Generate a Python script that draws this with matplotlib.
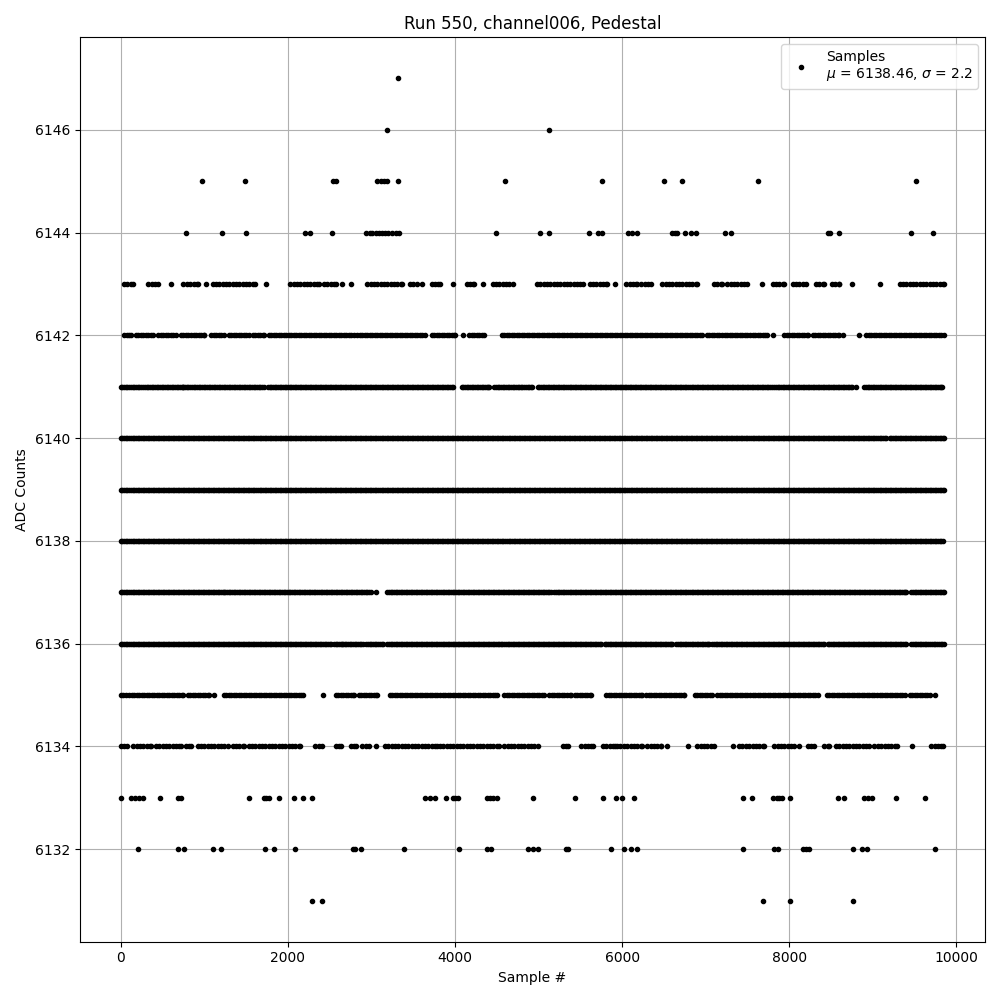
import numpy as np
import matplotlib
matplotlib.use("Agg")
import matplotlib.pyplot as plt

# sparse ADC levels: sample indices
s6147 = [3315]
s6146 = [3190, 5125]
s6145 = [970, 1487, 2545, 2575, 3070, 3110, 3150, 3190, 3315, 4595, 5755, 6500, 6715, 7620, 9515]
s6144 = [780, 1210, 1495, 2210, 2270, 2525, 2940, 2980, 3010, 3050, 3090, 3120, 3160, 3200, 3240,
         3290, 3330, 4490, 5020, 5120, 5600, 5710, 5760, 6070, 6120, 6180, 6600, 6630, 6660, 6750,
         6820, 6880, 7230, 7300, 8460, 8490, 8600, 9460, 9725]
s6133 = [0, 120, 170, 220, 260, 465, 680, 720, 1530, 1710, 1740, 1770, 1890, 2070, 2180, 2285,
         3640, 3700, 3760, 3890, 3970, 4000, 4030, 4380, 4420, 4460, 4500, 4930, 5440, 5770, 5930,
         6000, 6140, 7450, 7550, 7800, 7850, 7880, 7910, 8010, 8580, 8660, 8890, 8940, 8990, 9280, 9620]
s6132 = [200, 680, 760, 1100, 1200, 1730, 1830, 2090, 2780, 2800, 2870, 3390, 4050, 4380, 4430,
         4870, 4930, 4990, 5330, 5350, 5870, 6020, 6100, 6180, 7450, 7820, 7860, 8160, 8200, 8240,
         8760, 8870, 8930, 9740]
s6131 = [2285, 2405, 7690, 8010, 8760]

# busy ADC levels: sample ranges (start, end) where the level is filled
r6143 = [(40, 150), (330, 440), (600, 600), (750, 920), (1020, 1020), (1100, 1610), (1735, 1735),
         (2030, 2370), (2430, 2570), (2650, 2650), (2750, 2750), (2950, 3360), (3460, 3540),
         (3610, 3610), (3720, 3820), (3970, 3970), (4140, 4230), (4330, 4330), (4450, 4690),
         (4980, 5530), (5610, 5820), (5910, 5910), (6050, 6180), (6230, 6350), (6480, 6900),
         (7100, 7190), (7260, 7500), (7670, 7670), (7800, 7940), (8040, 8200), (8320, 8420),
         (8510, 8600), (8745, 8745), (9090, 9090), (9320, 9850)]
r6142 = [(40, 120), (180, 380), (450, 660), (720, 1000), (1080, 1230), (1290, 1530), (1580, 1710),
         (1770, 2390), (2430, 2790), (2830, 3640), (3720, 4000), (4090, 4090), (4170, 4350),
         (4560, 6950), (7010, 7160), (7200, 7730), (7800, 7800), (7940, 8220), (8280, 8600),
         (8640, 8640), (8840, 8840), (8920, 9850)]
r6141 = [(0, 240), (270, 740), (750, 1710), (1760, 3970), (4080, 4410), (4470, 4800), (4830, 4920),
         (4990, 7790), (7820, 8750), (8800, 8800), (8900, 9830)]
r6140 = [(0, 3700), (3720, 4400), (4420, 9160), (9200, 9850)]
r6139 = [(0, 9850)]
r6138 = [(0, 9840)]
r6137 = [(0, 1230), (1250, 2990), (3050, 3050), (3190, 5150), (5190, 9400), (9460, 9850)]
r6136 = [(0, 1300), (1320, 2520), (2550, 2660), (2680, 2900), (2940, 3140), (3190, 4560),
         (4590, 5750), (5790, 6600), (6650, 7040), (7080, 7380), (7400, 8420), (8460, 9400),
         (9460, 9680), (9710, 9850)]
r6135 = [(0, 60), (100, 750), (800, 1050), (1110, 1110), (1230, 2180), (2420, 2420), (2570, 2790),
         (2850, 3070), (3220, 4500), (4590, 5070), (5130, 5390), (5430, 5630), (5810, 6240),
         (6290, 6745), (6870, 7070), (7140, 8340), (8450, 9380), (9440, 9680), (9740, 9740)]
r6134 = [(0, 80), (150, 360), (420, 720), (780, 840), (920, 1280), (1340, 1470), (1530, 2150),
         (2330, 2410), (2570, 2630), (2750, 2810), (2890, 2970), (3050, 3050), (3160, 3780),
         (3820, 4530), (4590, 4990), (5290, 5350), (5510, 5650), (5770, 5910), (5940, 6240),
         (6300, 6470), (6540, 6540), (6790, 6790), (6900, 7100), (7330, 7330), (7400, 7700),
         (7820, 8060), (8120, 8120), (8220, 8300), (8420, 8480), (8560, 8960), (9020, 9290),
         (9470, 9470), (9700, 9840)]

sparse = {6147: s6147, 6146: s6146, 6145: s6145, 6144: s6144,
          6133: s6133, 6132: s6132, 6131: s6131}
ranges = {6143: r6143, 6142: r6142, 6141: r6141, 6140: r6140, 6139: r6139,
          6138: r6138, 6137: r6137, 6136: r6136, 6135: r6135, 6134: r6134}
# outer levels are thinner, so samples there are spaced wider apart
spacing = {6143: 40, 6134: 40, 6142: 30, 6135: 30}

xs, ys = [], []
for level, idx in sparse.items():
    xs += idx
    ys += [level] * len(idx)
for level, segs in ranges.items():
    step = spacing.get(level, 20)
    for a, b in segs:
        pts = list(np.arange(a, b + 1, step))
        if pts[-1] != b:
            pts.append(b)
        xs += pts
        ys += [level] * len(pts)

mu, sigma = 6138.46, 2.2

fig, ax = plt.subplots(figsize=(10, 10), dpi=100)
ax.plot(xs, ys, "k.", linestyle="none",
        label=f"Samples\n$\\mu$ = {mu:.2f}, $\\sigma$ = {sigma:.1f}")
ax.set_title("Run 550, channel006, Pedestal")
ax.set_xlabel("Sample #")
ax.set_ylabel("ADC Counts")
ax.grid(True)
ax.legend(loc="upper right")
plt.tight_layout()
plt.savefig("out.png")
